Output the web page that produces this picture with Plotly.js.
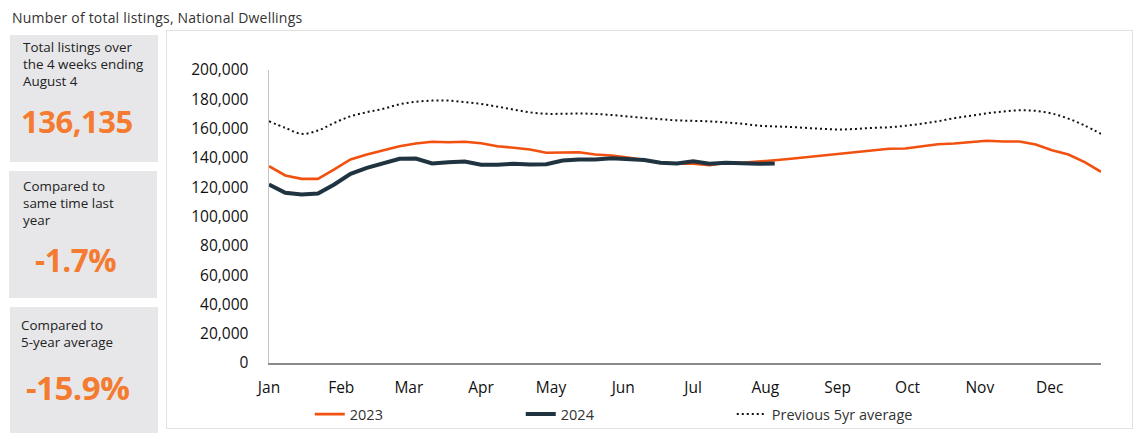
<!DOCTYPE html>
<html>
<head>
<meta charset="utf-8">
<script src="https://cdn.plot.ly/plotly-3.0.1.min.js"></script>
<style>
  html, body { margin: 0; padding: 0; background: #ffffff; }
  body { width: 1139px; height: 433px; position: relative; overflow: hidden; font-family: "Open Sans", sans-serif; color: #222; }
  #title { position: absolute; left: 12px; top: 8px; font-size: 14px; letter-spacing: 0.2px; color: #333; white-space: nowrap; }
  .box { position: absolute; background: #e7e7e9; }
  .lbl { position: absolute; font-size: 13.4px; line-height: 16.8px; color: #222; white-space: nowrap; }
  .big { position: absolute; font-weight: 700; color: #f47b30; white-space: nowrap; letter-spacing: -0.5px; }
  #chartbox { position: absolute; left: 166px; top: 30px; width: 967px; height: 399px; border: 1.5px solid #e2e2e2; box-sizing: border-box; }
  #chart { position: absolute; left: 0; top: 0; width: 964px; height: 396px; }
</style>
</head>
<body>
<div id="title">Number of total listings, National Dwellings</div>

<div class="box" style="left:10px; top:35px; width:148px; height:127px;"></div>
<div class="lbl" style="left:23px; top:39px;">Total listings over<br>the 4 weeks ending<br>August 4</div>
<div class="big" style="left:21px; top:100px; font-size:31px;">136,135</div>

<div class="box" style="left:9px; top:171px; width:148px; height:127px;"></div>
<div class="lbl" style="left:23px; top:178px;">Compared to<br>same time last<br>year</div>
<div class="big" style="left:35px; top:238px; font-size:31.5px;">-1.7%</div>

<div class="box" style="left:10px; top:307px; width:148px; height:126px;"></div>
<div class="lbl" style="left:21px; top:317px;">Compared to<br>5-year average</div>
<div class="big" style="left:26px; top:365px; font-size:33px;">-15.9%</div>

<div id="chartbox"><div id="chart"></div></div>

<script>
// ---- data (thousands of listings, weekly) ----
const weekStart = '2024-01-01';
const monthLabels = ['Jan','Feb','Mar','Apr','May','Jun','Jul','Aug','Sep','Oct','Nov','Dec'];

const listings2023 = [
  134.3, 128.0, 125.7, 125.7, 132.1, 138.9, 142.3, 145.0, 148.0, 149.8,
  151.0, 150.7, 151.0, 150.0, 148.0, 146.9, 145.7, 143.5, 143.9, 143.9,
  142.3, 141.6, 140.3, 138.4, 136.7, 136.0, 136.0, 135.0, 136.7, 136.7,
  137.3, 138.4, 139.4, 140.5, 141.6, 142.8, 143.9, 145.0, 146.2, 146.4,
  148.0, 149.3, 149.8, 150.7, 151.7, 151.2, 151.2, 149.1, 145.2, 142.3,
  137.1, 130.5
];

const listings2024 = [
  121.9, 116.2, 115.0, 115.7, 121.9, 129.1, 133.2, 136.0, 139.4, 139.6,
  136.2, 137.1, 137.5, 135.3, 135.3, 136.0, 135.5, 135.7, 138.2, 138.9,
  138.9, 139.8, 139.4, 138.6, 136.7, 136.2, 137.7, 136.0, 136.7, 136.2,
  136.0, 136.135
];

const prev5yrAvg = [
  165.0, 160.5, 156.4, 158.7, 163.9, 168.4, 171.2, 173.5, 176.6, 178.3,
  179.1, 179.1, 178.1, 176.8, 175.0, 173.0, 171.1, 170.1, 170.1, 170.3,
  170.0, 169.3, 168.3, 167.3, 166.4, 165.6, 165.3, 164.9, 164.2, 163.3,
  162.0, 161.5, 161.1, 160.4, 159.8, 159.4, 159.8, 160.5, 160.9, 161.9,
  163.3, 165.0, 167.1, 168.8, 170.4, 171.7, 172.5, 172.1, 170.3, 166.8,
  162.1, 156.4
];

// weekly date categories
function weeks(n) {
  const out = [];
  const d0 = new Date(weekStart + 'T00:00:00Z');
  for (let i = 0; i < n; i++) {
    const d = new Date(d0.getTime() + i * 7 * 86400000);
    out.push(d.toISOString().slice(0, 10));
  }
  return out;
}
const toCount = a => a.map(v => Math.round(v * 1000));

const xAll = weeks(prev5yrAvg.length);
const monthTicks = monthLabels.map((m, i) => '2024-' + String(i + 1).padStart(2, '0') + '-01');

const font = "Open Sans, sans-serif";

const traces = [
  {
    x: weeks(listings2023.length), y: toCount(listings2023), name: '2023',
    type: 'scatter', mode: 'lines',
    line: { color: '#f2500f', width: 2.6 }
  },
  {
    x: weeks(listings2024.length), y: toCount(listings2024), name: '2024',
    type: 'scatter', mode: 'lines',
    line: { color: '#1f3340', width: 4 }
  },
  {
    x: xAll, y: toCount(prev5yrAvg), name: 'Previous 5yr average',
    type: 'scatter', mode: 'lines',
    line: { color: '#111111', width: 2, dash: '2px,3px', shape: 'spline' }
  }
];

const layout = {
  width: 964, height: 396,
  margin: { l: 102, r: 30, t: 39, b: 64, autoexpand: false },
  paper_bgcolor: '#ffffff', plot_bgcolor: '#ffffff',
  font: { family: font, size: 14, color: '#111' },
  showlegend: true,
  legend: {
    orientation: 'h', x: 0.049, xanchor: 'left', y: -0.12, yanchor: 'top',
    font: { family: font, size: 14.5, color: '#333' },
    entrywidth: 166, itemwidth: 30, tracegroupgap: 0
  },
  xaxis: {
    type: 'date',
    range: [xAll[0], xAll[xAll.length - 1]],
    tickvals: monthTicks, ticktext: monthLabels,
    showgrid: false, zeroline: false,
    showline: true, linecolor: '#8a8a8a', linewidth: 1.5,
    ticks: '', ticklabelstandoff: 10,
    tickfont: { family: font, size: 15.5, color: '#111' },
    fixedrange: true
  },
  yaxis: {
    range: [0, 200000], dtick: 20000, tickformat: ',d',
    showgrid: false, zeroline: false,
    showline: true, linecolor: '#c4c4c4', linewidth: 1.5,
    ticks: '', ticklabelstandoff: 16,
    tickfont: { family: font, size: 15.5, color: '#111' },
    fixedrange: true
  },
  hovermode: false
};

Plotly.newPlot('chart', traces, layout, { displayModeBar: false, staticPlot: true });
</script>
</body>
</html>
